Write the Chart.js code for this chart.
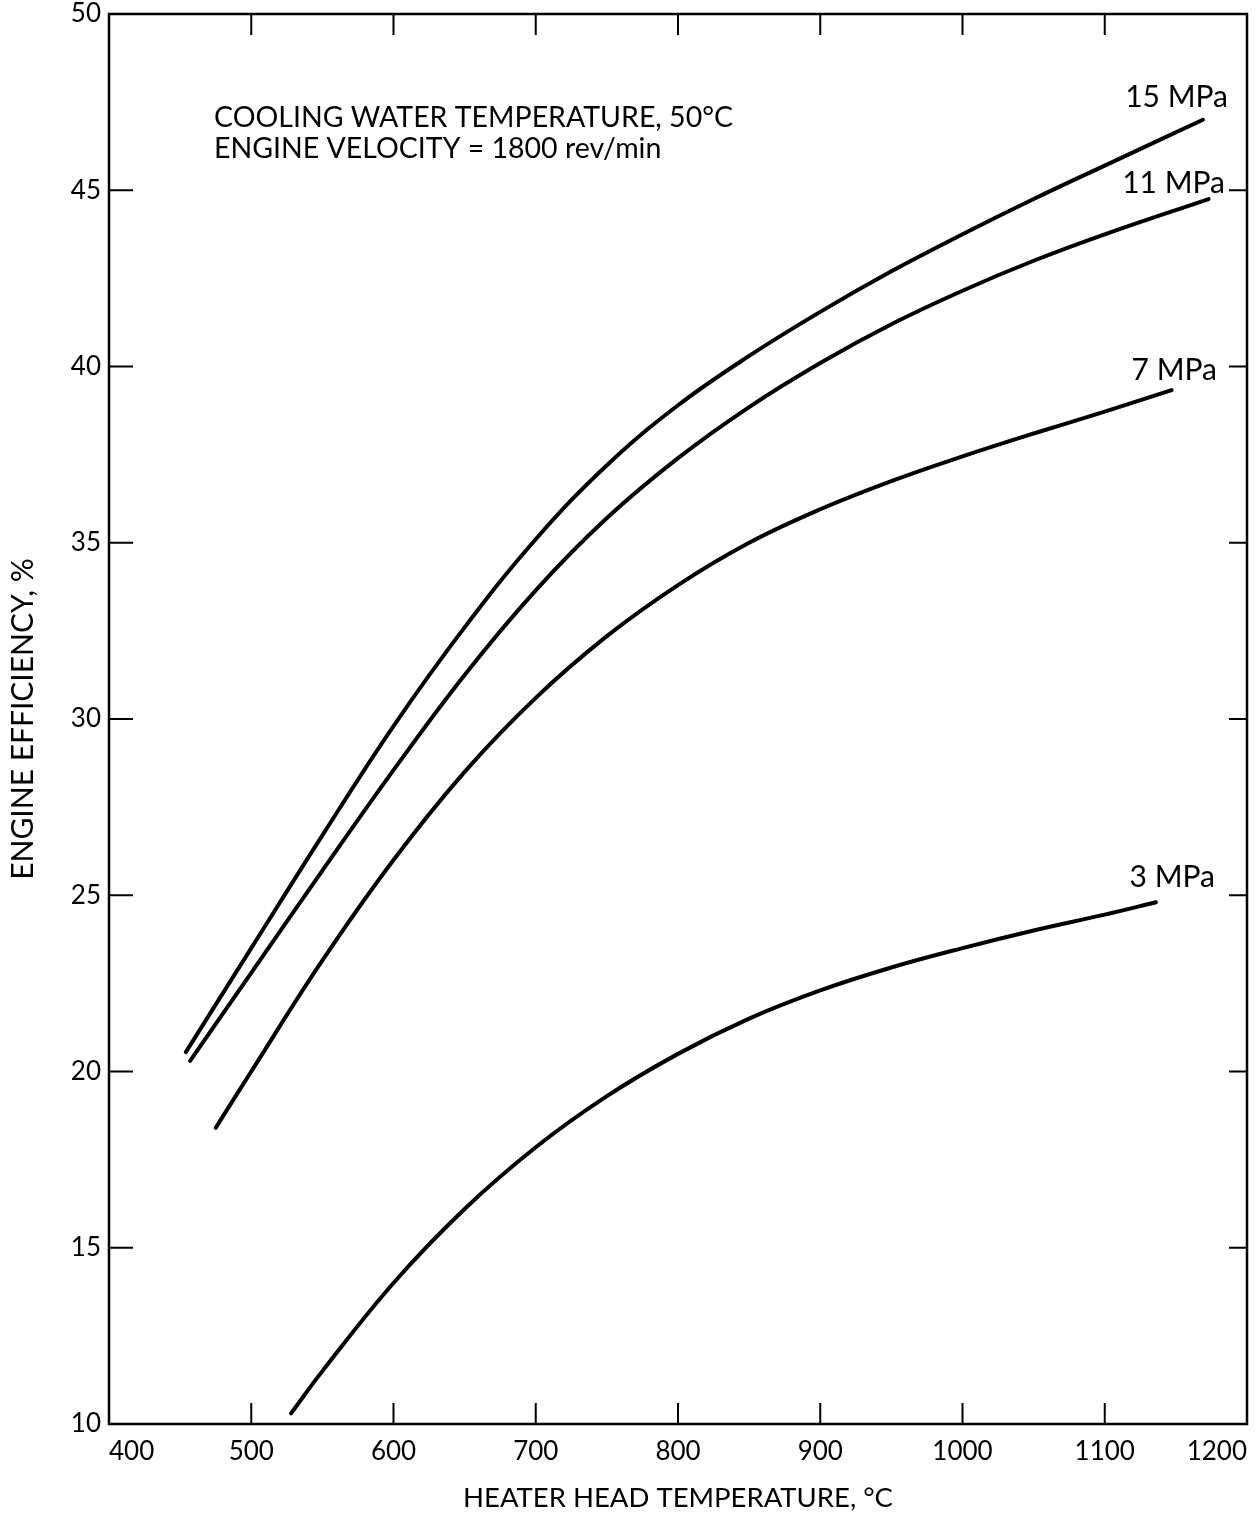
<!DOCTYPE html>
<html>
<head>
<meta charset="utf-8">
<title>Engine efficiency vs heater head temperature</title>
<script src="https://cdn.jsdelivr.net/npm/chart.js@4.4.1/dist/chart.umd.min.js"></script>
<style>
  html, body { margin: 0; padding: 0; background: #fff; }
  #wrap { width: 1257px; height: 1518px; }
</style>
</head>
<body>
<div id="wrap"><canvas id="chart" width="1257" height="1518"></canvas></div>
<script>
// heater head temperature (°C) and engine efficiency (%) for each charge pressure
const temp15 = [454, 500, 550, 600, 650, 700, 750, 800, 850, 900, 950, 1000, 1050, 1100, 1169];
const eff15  = [20.55, 23.5, 26.7, 29.8, 32.6, 35.1, 37.2, 38.9, 40.3, 41.55, 42.7, 43.75, 44.75, 45.7, 47.0];

const temp11 = [457, 500, 550, 600, 650, 700, 750, 800, 850, 900, 950, 1000, 1050, 1100, 1173];
const eff11  = [20.3, 22.8, 25.7, 28.55, 31.25, 33.65, 35.7, 37.4, 38.85, 40.1, 41.2, 42.15, 43.0, 43.75, 44.75];

const temp7 = [475, 500, 550, 600, 650, 700, 750, 800, 850, 900, 950, 1000, 1050, 1100, 1147];
const eff7  = [18.4, 20.0, 23.15, 26.0, 28.5, 30.6, 32.35, 33.8, 35.0, 35.95, 36.75, 37.45, 38.1, 38.72, 39.33];

const temp3 = [528, 550, 600, 650, 700, 750, 800, 850, 900, 950, 1000, 1050, 1100, 1136];
const eff3  = [10.3, 11.5, 14.0, 16.1, 17.85, 19.3, 20.5, 21.5, 22.3, 22.95, 23.5, 24.0, 24.45, 24.8];

const seriesNames = ["15 MPa", "11 MPa", "7 MPa", "3 MPa"];

const xTicks = [400, 500, 600, 700, 800, 900, 1000, 1100, 1200];
const yTicks = [10, 15, 20, 25, 30, 35, 40, 45, 50];

const noteLines = ["COOLING WATER TEMPERATURE, 50°C", "ENGINE VELOCITY = 1800 rev/min"];

const FONT = "Lato, 'Noto Sans', sans-serif";

function points(xs, ys) {
    return xs.map((x, i) => ({ x: x, y: ys[i] }));
}

function curve(label, xs, ys) {
    return {
        label: label,
        data: points(xs, ys),
        showLine: true,
        borderColor: "#000",
        borderWidth: 4,
        pointRadius: 0,
        fill: false,
        tension: 0.4,
        borderCapStyle: "round"
    };
}

// frame, inward tick marks, curve labels and the note block
const decorations = {
    id: "decorations",
    afterDraw(chart) {
        const ctx = chart.ctx;
        const a = chart.chartArea;
        const xs = chart.scales.x;
        const ys = chart.scales.y;
        const tickLen = 21;

        ctx.save();
        ctx.strokeStyle = "#000";
        ctx.lineWidth = 2.5;
        ctx.strokeRect(a.left, a.top, a.right - a.left, a.bottom - a.top);

        ctx.lineWidth = 2;
        ctx.beginPath();
        xTicks.slice(1, -1).forEach(v => {
            let px = xs.getPixelForValue(v);
            ctx.moveTo(px, a.bottom);
            ctx.lineTo(px, a.bottom - tickLen);
            ctx.moveTo(px, a.top);
            ctx.lineTo(px, a.top + tickLen);
        });
        yTicks.slice(1, -1).forEach(v => {
            let py = ys.getPixelForValue(v);
            ctx.moveTo(a.left, py);
            ctx.lineTo(a.left + tickLen + 3, py);
            ctx.moveTo(a.right, py);
            ctx.lineTo(a.right - tickLen + 3, py);
        });
        ctx.stroke();

        // labels sit just left of the right-hand ticks
        const labelY = [47.65, 45.2, 39.9, 25.5];
        const labelRight = [1228, 1225, 1217, 1215];
        ctx.fillStyle = "#000";
        ctx.font = "30px " + FONT;
        ctx.textAlign = "right";
        ctx.textBaseline = "middle";
        seriesNames.forEach((name, i) => {
            ctx.fillText(name, labelRight[i], ys.getPixelForValue(labelY[i]));
        });

        ctx.font = "28.5px " + FONT;
        ctx.textAlign = "left";
        ctx.textBaseline = "alphabetic";
        ctx.fillText(noteLines[0], a.left + 105, 127);
        ctx.fillText(noteLines[1], a.left + 105, 158);
        ctx.restore();
    }
};

new Chart(document.getElementById("chart"), {
    type: "scatter",
    data: {
        datasets: [
            curve(seriesNames[0], temp15, eff15),
            curve(seriesNames[1], temp11, eff11),
            curve(seriesNames[2], temp7, eff7),
            curve(seriesNames[3], temp3, eff3)
        ]
    },
    options: {
        responsive: false,
        animation: false,
        layout: { padding: { top: 14, right: 10, left: 0, bottom: 0 } },
        plugins: {
            legend: { display: false },
            tooltip: { enabled: false }
        },
        scales: {
            x: {
                type: "linear",
                min: 400,
                max: 1200,
                afterBuildTicks: s => { s.ticks = xTicks.map(v => ({ value: v })); },
                afterFit: s => {
                    s.height = 94;
                    s.paddingLeft = 0;
                    s.paddingRight = 0;
                },
                grid: { display: false, drawTicks: false },
                border: { display: false },
                ticks: {
                    color: "#000",
                    padding: 12,
                    align: "inner",
                    maxRotation: 0,
                    callback: v => String(v),
                    font: { family: FONT, size: 26, lineHeight: 1.2 }
                },
                title: {
                    display: true,
                    text: "HEATER HEAD TEMPERATURE, °C",
                    color: "#000",
                    padding: { top: 0, bottom: 3 },
                    font: { family: FONT, size: 27.5, lineHeight: 1.2 }
                }
            },
            y: {
                type: "linear",
                min: 10,
                max: 50,
                afterBuildTicks: s => { s.ticks = yTicks.map(v => ({ value: v })); },
                afterFit: s => {
                    s.width = 109;
                    s.paddingTop = 0;
                    s.paddingBottom = 0;
                },
                grid: { display: false, drawTicks: false },
                border: { display: false },
                ticks: {
                    color: "#000",
                    padding: 8,
                    callback: v => String(v),
                    font: { family: FONT, size: 26, lineHeight: 1.2 }
                },
                title: {
                    display: true,
                    text: "ENGINE EFFICIENCY, %",
                    color: "#000",
                    padding: { top: 5, bottom: 0 },
                    font: { family: FONT, size: 30, lineHeight: 1.2 }
                }
            }
        }
    },
    plugins: [decorations]
});
</script>
</body>
</html>
